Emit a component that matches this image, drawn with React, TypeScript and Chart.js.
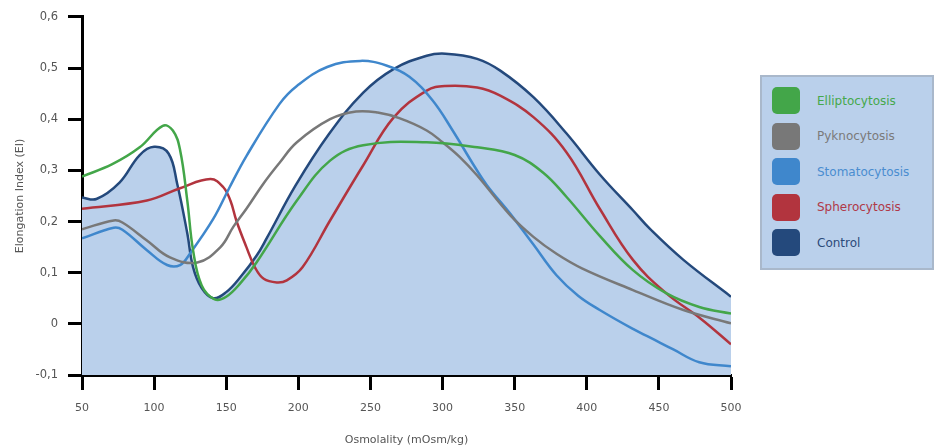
import React, { useEffect, useRef } from "react";
import { Chart, registerables } from "chart.js";

Chart.register(...registerables);

const seriesNames = ["Elliptocytosis", "Pyknocytosis", "Stomatocytosis", "Spherocytosis", "Control"];
const lineColors = ["#43a649", "#787878", "#3f87cc", "#b2343e", "#24497c"];
const textColors = ["#46a84c", "#7a7a7a", "#4a8dd0", "#b03848", "#2c4a7a"];

const ellipX = [50, 71, 90, 106, 113, 118, 123, 127, 133, 142, 150, 160, 171, 199, 222, 245, 289, 324, 350, 370, 386, 409, 432, 455, 478, 500];
const ellipY = [0.288, 0.312, 0.345, 0.387, 0.378, 0.34, 0.241, 0.144, 0.075, 0.048, 0.053, 0.08, 0.12, 0.241, 0.319, 0.349, 0.355, 0.345, 0.33, 0.295, 0.248, 0.172, 0.105, 0.06, 0.033, 0.02];

const pyknoX = [50, 72, 78, 95, 111, 130, 146, 155, 164, 176, 187, 199, 222, 240, 255, 270, 289, 300, 312, 324, 347, 363, 379, 397, 432, 467, 500];
const pyknoY = [0.185, 0.202, 0.198, 0.163, 0.13, 0.12, 0.15, 0.19, 0.225, 0.275, 0.315, 0.355, 0.4, 0.415, 0.413, 0.402, 0.378, 0.355, 0.326, 0.29, 0.212, 0.17, 0.137, 0.108, 0.066, 0.027, 0.001];

const stomaX = [50, 72, 78, 95, 109, 118, 125, 141, 152, 164, 187, 199, 220, 243, 261, 277, 293, 307, 321, 331, 347, 363, 379, 394, 409, 432, 444, 460, 478, 500];
const stomaY = [0.167, 0.188, 0.184, 0.144, 0.115, 0.115, 0.138, 0.205, 0.265, 0.328, 0.43, 0.465, 0.502, 0.514, 0.505, 0.483, 0.437, 0.378, 0.313, 0.27, 0.215, 0.155, 0.095, 0.055, 0.027, -0.01, -0.027, -0.05, -0.075, -0.083];

const spheroX = [50, 95, 118, 139, 148, 153, 157, 164, 170, 176, 185, 192, 203, 222, 245, 266, 289, 302, 324, 340, 363, 386, 409, 432, 455, 479, 500];
const spheroY = [0.225, 0.241, 0.265, 0.283, 0.267, 0.24, 0.202, 0.15, 0.11, 0.088, 0.081, 0.085, 0.111, 0.202, 0.31, 0.403, 0.456, 0.465, 0.462, 0.446, 0.404, 0.335, 0.225, 0.125, 0.06, 0.01, -0.04];

const controlX = [50, 60, 76, 90, 100, 110, 116, 123, 127, 133, 141, 150, 160, 171, 178, 198, 221, 245, 266, 289, 302, 324, 340, 363, 386, 409, 432, 444, 467, 500];
const controlY = [0.247, 0.244, 0.276, 0.33, 0.346, 0.333, 0.274, 0.177, 0.111, 0.07, 0.05, 0.062, 0.092, 0.133, 0.167, 0.27, 0.37, 0.452, 0.498, 0.524, 0.528, 0.518, 0.495, 0.443, 0.372, 0.292, 0.222, 0.185, 0.125, 0.053];

const xTicks = [50, 100, 150, 200, 250, 300, 350, 400, 450, 500];
const yTicks = [-0.1, 0, 0.1, 0.2, 0.3, 0.4, 0.5, 0.6];

const controlFill = "rgb(186,208,235)";
const FONT = "'DejaVu Sans', Verdana, sans-serif";

function pts(xs: number[], ys: number[]) {
  return xs.map((x, i) => ({ x, y: ys[i] }));
}

function fmtY(v: number) {
  const r = Math.round(v * 10) / 10;
  if (r === 0) return "0";
  return r.toFixed(1).replace(".", ",");
}

export default function App() {
  const ref = useRef<HTMLCanvasElement | null>(null);

  useEffect(() => {
    if (!ref.current) return;
    const allX = [ellipX, pyknoX, stomaX, spheroX, controlX];
    const allY = [ellipY, pyknoY, stomaY, spheroY, controlY];
    const datasets: any[] = seriesNames.map((name, i) => ({
      label: name,
      data: pts(allX[i], allY[i]),
      borderColor: lineColors[i],
      backgroundColor: i === 4 ? controlFill : lineColors[i],
      borderWidth: 2.5,
      pointRadius: 0,
      tension: 0.4,
      fill: i === 4 ? "start" : false,
    }));

    const chart = new Chart(ref.current, {
      type: "line",
      data: { datasets },
      options: {
        animation: false,
        responsive: false,
        maintainAspectRatio: false,
        layout: { padding: { left: 14, top: 16, right: 205, bottom: 0 } },
        plugins: {
          legend: { display: false },
          tooltip: { enabled: false },
          filler: { drawTime: "beforeDatasetsDraw" } as any,
        },
        scales: {
          x: {
            type: "linear",
            min: 50,
            max: 500,
            afterBuildTicks: (s: any) => {
              s.ticks = xTicks.map((v) => ({ value: v }));
            },
            afterFit: (s: any) => {
              s.height = 72;
            },
            ticks: {
              color: "#555",
              font: { family: FONT, size: 11 },
              padding: 12,
              maxRotation: 0,
              autoSkip: false,
            },
            grid: {
              drawOnChartArea: false,
              drawTicks: true,
              tickLength: 15,
              tickWidth: 3,
              tickColor: "#000",
              color: "#000",
            },
            border: { display: true, color: "#000", width: 3 },
            title: {
              display: true,
              text: "Osmolality (mOsm/kg)",
              color: "#555",
              font: { family: FONT, size: 11 },
              padding: { top: 9, bottom: 0 },
            },
          },
          y: {
            type: "linear",
            min: -0.1,
            max: 0.6,
            afterBuildTicks: (s: any) => {
              s.ticks = yTicks.map((v) => ({ value: v }));
            },
            afterFit: (s: any) => {
              s.width = 68;
            },
            ticks: {
              color: "#555",
              font: { family: FONT, size: 11.5 },
              padding: 10,
              callback: (v: any) => fmtY(Number(v)),
            },
            grid: {
              drawOnChartArea: false,
              drawTicks: true,
              tickLength: 14,
              tickWidth: 3,
              tickColor: "#000",
              color: "#000",
            },
            border: { display: true, color: "#000", width: 3 },
            title: {
              display: true,
              text: "Elongation Index (EI)",
              color: "#555",
              font: { family: FONT, size: 11 },
              padding: { top: 0, bottom: 4 },
            },
          },
        },
      },
    });
    return () => chart.destroy();
  }, []);

  return (
    <div style={{ position: "fixed", left: 0, top: 0, width: 936, height: 447, background: "#fff", overflow: "hidden" }}>
      <canvas ref={ref} width={936} height={447} style={{ position: "absolute", left: 0, top: 0, width: 936, height: 447 }} />
      <div
        style={{
          position: "absolute",
          left: 760,
          top: 75,
          width: 174,
          height: 195,
          background: controlFill,
          border: "2px solid #a9b8cb",
          boxSizing: "border-box",
          fontFamily: FONT,
          fontSize: 12,
        }}
      >
        {seriesNames.map((name, i) => (
          <div key={name} style={{ position: "absolute", left: 10, top: 10 + i * 35.6, height: 27, display: "flex", alignItems: "center" }}>
            <div style={{ width: 28, height: 27, borderRadius: 5, background: lineColors[i] }} />
            <span style={{ marginLeft: 17, color: textColors[i] }}>{name}</span>
          </div>
        ))}
      </div>
    </div>
  );
}
